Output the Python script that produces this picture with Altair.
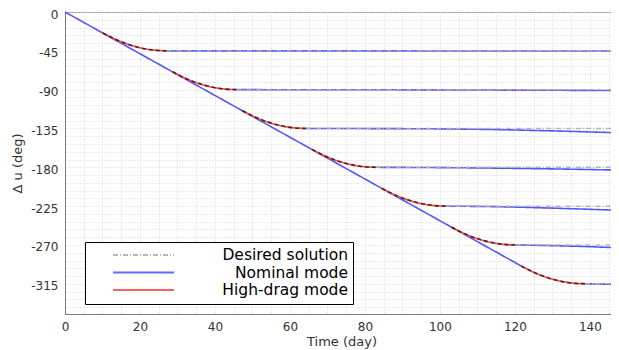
import altair as alt
import pandas as pd

# ---------------- data ----------------
SERIES = ["Desired solution", "Nominal mode", "High-drag mode"]

X_END = 147.5
X_MAJOR = [0, 20, 40, 60, 80, 100, 120, 140]
Y_MAJOR = [0, -45, -90, -135, -180, -225, -270, -315]

# nominal mode: common descending branch
DIAG_DAY = [0.0, 121.7]
DIAG_DEG = [0.0, -294.4]

# high-drag transitions (one per target)
HD_DAYS = [
    [10.1, 14.35, 18.6, 22.85, 27.1],
    [28.7, 32.95, 37.2, 41.45, 45.7],
    [47.3, 51.55, 55.8, 60.05, 64.3],
    [65.9, 70.15, 74.4, 78.65, 82.9],
    [84.5, 88.75, 93.0, 97.25, 101.5],
    [103.1, 107.35, 111.6, 115.85, 120.1],
    [121.7, 125.95, 130.2, 134.45, 138.7],
]
HD_DEGS = [
    [-24.4, -33.4, -39.85, -43.7, -45.0],
    [-69.4, -78.4, -84.85, -88.7, -90.0],
    [-114.4, -123.4, -129.85, -133.7, -135.0],
    [-159.4, -168.4, -174.85, -178.7, -180.0],
    [-204.4, -213.4, -219.85, -223.7, -225.0],
    [-249.4, -258.4, -264.85, -268.7, -270.0],
    [-294.4, -303.4, -309.85, -313.7, -315.0],
]

# nominal mode after reaching each target (slow drift)
NOM_H_DAYS = [
    [27.1, 147.5],
    [45.7, 100.0, 147.5],
    [64.3, 95.0, 115.0, 130.0, 147.5],
    [82.9, 105.0, 125.0, 147.5],
    [101.5, 115.0, 130.0, 147.5],
    [120.1, 130.0, 140.0, 147.5],
    [138.7, 147.5],
]
NOM_H_DEGS = [
    [-45.0, -45.2],
    [-90.0, -90.3, -91.0],
    [-135.0, -135.3, -136.3, -137.8, -140.0],
    [-180.0, -180.5, -181.5, -183.2],
    [-225.0, -225.6, -227.3, -229.8],
    [-270.0, -270.8, -272.0, -273.3],
    [-315.0, -315.6],
]

# desired solution: hold each target
TARGETS = [-45, -90, -135, -180, -225, -270, -315]
DES_START = [27.1, 45.7, 64.3, 82.9, 101.5, 120.1, 138.7]

# ---------------- tables ----------------
nom_rows, hd_rows, des_rows, desc_rows = [], [], [], []
for d, v in zip(DIAG_DAY, DIAG_DEG):
    nom_rows.append({"seg": "diag", "series": SERIES[1], "day": d, "deg": v})
for i, (ds, vs) in enumerate(zip(NOM_H_DAYS, NOM_H_DEGS)):
    for d, v in zip(ds, vs):
        nom_rows.append({"seg": f"h{i}", "series": SERIES[1], "day": d, "deg": v})
for i, (ds, vs) in enumerate(zip(HD_DAYS, HD_DEGS)):
    for d, v in zip(ds, vs):
        hd_rows.append({"seg": f"c{i}", "series": SERIES[2], "day": d, "deg": v})
        desc_rows.append({"seg": f"c{i}", "series": SERIES[0], "day": d, "deg": v})
for i, (s, t) in enumerate(zip(DES_START, TARGETS)):
    for d in (s, X_END):
        des_rows.append({"seg": f"d{i}", "series": SERIES[0], "day": d, "deg": t})

nom_df = pd.DataFrame(nom_rows)
hd_df = pd.DataFrame(hd_rows)
des_df = pd.DataFrame(des_rows)
desc_df = pd.DataFrame(desc_rows)

x_grid = [v for v in range(0, 150, 5)]
y_grid = [-v for v in range(0, 351, 9)]

FONT = "DejaVu Sans"

x_enc = alt.X(
    "day:Q",
    scale=alt.Scale(domain=[0, X_END], nice=False, zero=False),
    axis=alt.Axis(
        values=x_grid,
        labelExpr="datum.value % 20 === 0 ? '' + datum.value : ''",
        ticks=False, grid=True, gridColor="#d6d6d6", gridDash=[1, 2],
        domainColor="#7a7a7a", labelFont=FONT, labelFontSize=12,
        labelColor="#333333", labelPadding=7, labelOverlap=False, labelFlush=False,
        title="Time (day)", titleFont=FONT, titleFontSize=13,
        titleFontWeight="normal", titleColor="#333333", titlePadding=3,
    ),
)
y_enc = alt.Y(
    "deg:Q",
    scale=alt.Scale(domain=[-350, 0], nice=False, zero=False),
    axis=alt.Axis(
        values=y_grid,
        labelExpr="datum.value % 45 === 0 ? '' + datum.value : ''",
        ticks=False, grid=True, gridColor="#d6d6d6", gridDash=[1, 2],
        domainColor="#7a7a7a", labelFont=FONT, labelFontSize=12,
        labelColor="#333333", labelPadding=7, labelOverlap=False, labelFlush=False,
        labelOffset=2,
        title="Δ u (deg)", titleFont=FONT, titleFontSize=13,
        titleFontWeight="normal", titleColor="#333333", titlePadding=6,
    ),
)

legend = alt.Legend(
    orient="none", legendX=20, legendY=230, title=None, direction="vertical",
    strokeColor="black", fillColor="white", padding=5,
    symbolType="M2.143,0H10.857", symbolSize=196, symbolStrokeWidth=2,
    labelFont=FONT, labelFontSize=15.5, labelColor="black",
    labelAlign="right", labelOffset=242, clipHeight=16, rowPadding=0.5,
    labelLimit=300,
)
color_enc = alt.Color(
    "series:N",
    scale=alt.Scale(domain=SERIES, range=["#b0b0b0", "#5555ff", "#ff5050"]),
    legend=legend,
)
dash_enc = alt.StrokeDash(
    "series:N",
    scale=alt.Scale(domain=SERIES, range=[[5, 2, 1, 2], [1, 0], [1, 0]]),
    legend=legend,
)

nominal = alt.Chart(nom_df).mark_line(strokeWidth=1.6, interpolate="monotone").encode(
    x=x_enc, y=y_enc, detail="seg:N", color=color_enc, strokeDash=dash_enc
)
highdrag = alt.Chart(hd_df).mark_line(strokeWidth=1.8, interpolate="monotone").encode(
    x=x_enc, y=y_enc, detail="seg:N", color=color_enc, strokeDash=dash_enc
)
desired = alt.Chart(des_df).mark_line(strokeWidth=1.5, opacity=0.9).encode(
    x=x_enc, y=y_enc, detail="seg:N", color=color_enc, strokeDash=dash_enc
)
desired_curve = alt.Chart(desc_df).mark_line(
    strokeWidth=1.6, interpolate="monotone", strokeDash=[4, 3], color="#2a1a1a", opacity=0.85
).encode(x=x_enc, y=y_enc, detail="seg:N")

chart = (
    alt.layer(nominal, highdrag, desired, desired_curve)
    .properties(
        width=553, height=302,
        autosize=alt.AutoSizeParams(type="none"),
        padding={"left": 57, "top": 4, "right": -7, "bottom": 35},
        background="white",
    )
    .configure_view(stroke="#999999", strokeWidth=1)
)

chart.save("out.html", embed_options={"renderer": "svg", "actions": False})
